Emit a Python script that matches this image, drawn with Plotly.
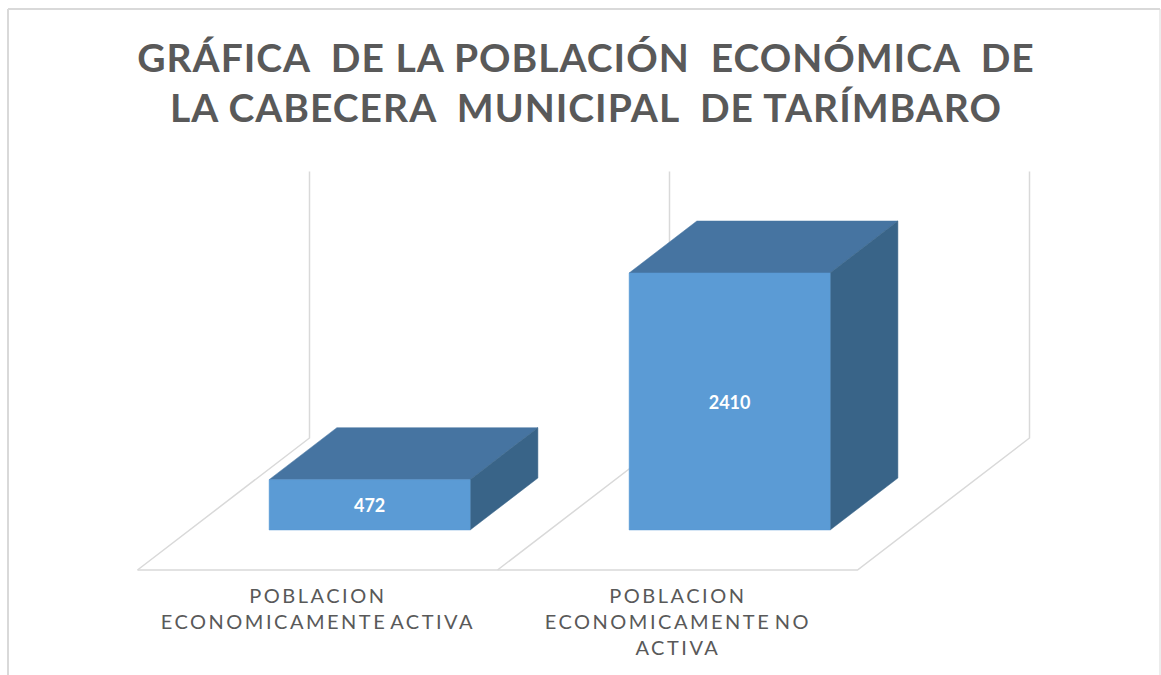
import plotly.graph_objects as go

title_text = "GRÁFICA  DE LA POBLACIÓN  ECONÓMICA  DE<br>LA CABECERA  MUNICIPAL  DE TARÍMBARO"
categories = ["POBLACION<br>ECONOMICAMENTE ACTIVA", "POBLACION<br>ECONOMICAMENTE NO<br>ACTIVA"]
values = [472, 2410]
axis_max = 2500

FRONT, TOP, SIDE, GRID, TXT = "#5b9bd5", "#4674a1", "#396488", "#d9d9d9", "#595959"

# oblique projection expressed in category / value units
W, H = 1161, 675
PX_X = 360.0                # pixels per category
PX_Y = 257.0 / 2410.0       # pixels per value unit
DX = 172.0 / PX_X           # x shift over full floor depth
DY = 132.0 / PX_Y           # y shift over full floor depth
D0, D1 = 40.0 / 132, 92.0 / 132   # bar front/back depth
BW = 201.0 / PX_X           # bar width in categories
X0 = 137.5                  # pixel of the floor's front-left corner
Y0 = 530.0                  # pixel of value 0 at the bars' front face


def proj(c, v, d):
    return c + d * DX, v + (d - D0) * DY


fig = go.Figure()


def line(points):
    xs, ys = zip(*[proj(*p) for p in points])
    fig.add_trace(go.Scatter(x=xs, y=ys, mode="lines", line=dict(color=GRID, width=1.5),
                             hoverinfo="skip", showlegend=False))


def poly(points, color):
    xs, ys = zip(*[proj(*p) for p in points])
    fig.add_trace(go.Scatter(x=xs, y=ys, mode="lines", fill="toself", fillcolor=color,
                             line=dict(color=color, width=0.5), hoverinfo="skip", showlegend=False))


n = len(categories)
line([(0, 0, 0), (n, 0, 0), (n, 0, 1), (n, axis_max, 1)])
for i in range(n):
    line([(i, 0, 0), (i, 0, 1), (i, axis_max, 1)])

for i, v in enumerate(values):
    a = i + (1 - BW) / 2
    b = a + BW
    poly([(a, v, D0), (b, v, D0), (b, v, D1), (a, v, D1), (a, v, D0)], TOP)
    poly([(b, 0, D0), (b, 0, D1), (b, v, D1), (b, v, D0), (b, 0, D0)], SIDE)
    poly([(a, 0, D0), (b, 0, D0), (b, v, D0), (a, v, D0), (a, 0, D0)], FRONT)
    x, y = proj(i + 0.5, v / 2, D0)
    fig.add_trace(go.Scatter(x=[x], y=[y - 3 / PX_Y], mode="text", text=[str(v)],
                             textfont=dict(family="Lato", size=18, color="white", weight="bold"),
                             hoverinfo="skip", showlegend=False))

annotations = []
for i, c in enumerate(categories):
    x, y = proj(i + 0.5, 0, 0)
    annotations.append(dict(x=x, y=y, text=c, showarrow=False, xanchor="center", yanchor="top",
                            yshift=-11, font=dict(family="Lato", size=20, color=TXT)))

fig.update_layout(
    width=W, height=H, margin=dict(l=0, r=0, t=0, b=0),
    paper_bgcolor="white", plot_bgcolor="white", showlegend=False,
    title=dict(text=title_text, x=586 / W, xanchor="center", y=0.894, yanchor="bottom",
               font=dict(family="Lato", size=39, color=TXT, weight="bold")),
    xaxis=dict(visible=False, range=[-X0 / PX_X, (W - X0) / PX_X], fixedrange=True),
    yaxis=dict(visible=False, range=[-(H - Y0) / PX_Y, Y0 / PX_Y], fixedrange=True),
    annotations=annotations,
    shapes=[
        dict(type="line", xref="paper", yref="paper", x0=8 / W, x1=8 / W, y0=0, y1=1 - 9 / H,
             line=dict(color=GRID, width=2)),
        dict(type="line", xref="paper", yref="paper", x0=8 / W, x1=1160 / W, y0=1 - 9 / H, y1=1 - 9 / H,
             line=dict(color=GRID, width=2)),
        dict(type="line", xref="paper", yref="paper", x0=1160 / W, x1=1160 / W, y0=0, y1=1 - 9 / H,
             line=dict(color=GRID, width=1)),
    ],
)

post = """
document.body.style.margin = '0';
document.querySelectorAll('.gtitle').forEach(t => { t.style.letterSpacing = '1px'; });
document.querySelectorAll('.annotation-text').forEach(t => {
  t.style.letterSpacing = '2.5px';
  t.style.wordSpacing = '-4px';
});
"""
fig.write_html("out.html", post_script=post, config={"displayModeBar": False})
